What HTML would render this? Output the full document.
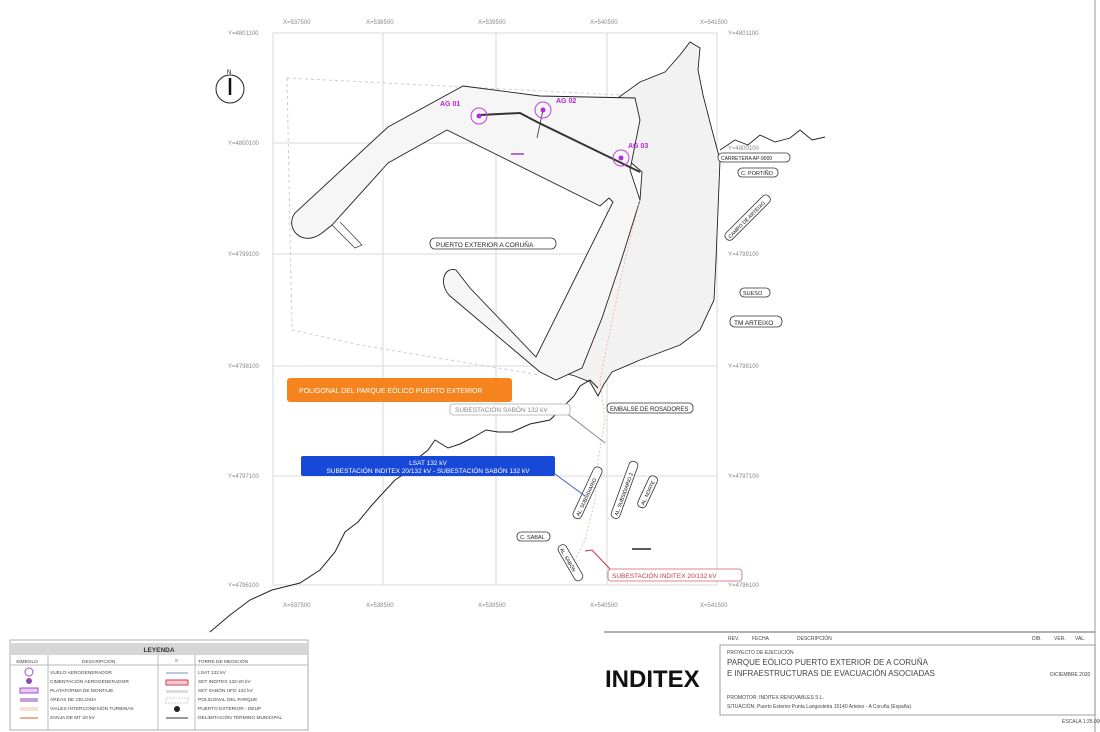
<!DOCTYPE html>
<html><head><meta charset="utf-8"><style>
html,body{margin:0;padding:0;background:#fff;width:1100px;height:732px;overflow:hidden}
svg{display:block}
text{font-family:"Liberation Sans",sans-serif}
</style></head><body>
<svg width="1100" height="732" viewBox="0 0 1100 732">
<rect width="1100" height="732" fill="#fff"/>
<!-- right frame line -->
<line x1="1095" y1="0" x2="1095" y2="732" stroke="#999" stroke-width="1"/>
<!-- grid -->
<g stroke="#d8d8d8" stroke-width="1" fill="none">
<rect x="273" y="33" width="444" height="552"/>
<line x1="383" y1="33" x2="383" y2="585"/><line x1="496" y1="33" x2="496" y2="585"/><line x1="607" y1="33" x2="607" y2="585"/>
<line x1="273" y1="143" x2="717" y2="143"/><line x1="273" y1="254" x2="717" y2="254"/><line x1="273" y1="366" x2="717" y2="366"/><line x1="273" y1="476" x2="717" y2="476"/>
</g>
<g font-size="6" fill="#888">
<text x="283" y="24">X=537500</text><text x="366" y="24">X=538500</text><text x="478" y="24">X=539500</text><text x="590" y="24">X=540500</text><text x="700" y="24">X=541500</text>
<text x="283" y="607">X=537500</text><text x="366" y="607">X=538500</text><text x="478" y="607">X=539500</text><text x="590" y="607">X=540500</text><text x="700" y="607">X=541500</text>
<text x="228" y="35">Y=4801100</text><text x="228" y="145">Y=4800100</text><text x="228" y="256">Y=4799100</text><text x="228" y="368">Y=4798100</text><text x="228" y="478">Y=4797100</text><text x="228" y="587">Y=4796100</text>
<text x="728" y="35">Y=4801100</text><text x="728" y="150">Y=4800100</text><text x="728" y="256">Y=4799100</text><text x="728" y="368">Y=4798100</text><text x="728" y="478">Y=4797100</text><text x="728" y="587">Y=4796100</text>
</g>
<!-- dashed poligonal -->
<path d="M287,78 L640,96 M287,78 L292,330 L360,345 L540,375" fill="none" stroke="#ccc" stroke-width="1" stroke-dasharray="3,3"/>
<!-- land -->
<path d="M615,100 L640,82 L665,72 L680,55 L690,42 L700,48 L698,70 L703,95 L712,130 L720,160 L718,210 L716,260 L714,300 L700,330 L680,345 L640,360 L612,372 L604,384 L598,396 L590,382 L575,376 L560,372 L566,352 L575,330 L590,300 L600,270 L608,240 L625,222 L640,200 L642,172 L628,160 L614,145 L622,122 Z" fill="#f2f2f2" stroke="#222" stroke-width="0.9"/>
<!-- breakwater -->
<path d="M463,86 L540,96 L635,98 L640,120 L630,170 L640,200 L622,258 L602,318 L582,368 L556,380 L540,372 L450,296 C438,284 444,266 456,270 L470,288 L536,357 L613,202 L609,198 L600,206 L447,130 L388,163 L332,225 L322,233 C302,248 284,228 295,213 L388,127 Z" fill="#f6f6f6" stroke="#222" stroke-width="0.9"/>
<path d="M332,225 L355,248 L362,245 L340,222" fill="none" stroke="#444" stroke-width="0.8"/>
<!-- coastlines -->
<path d="M210,632 L230,615 L250,600 L272,590 L300,583 L320,570 L335,552 L345,532 L358,522 L372,505 L382,494 L395,480 L410,470 L418,458 L428,450 L435,440 L448,448 L460,444 L472,438 L486,430 L498,432 L512,432 L530,424 L550,420 L562,408 L574,396 L580,386 L590,380 L598,388" fill="none" stroke="#222" stroke-width="1"/>
<path d="M720,150 L735,140 L748,145 L760,135 L775,142 L790,138 L800,130 L812,140 L825,137" fill="none" stroke="#222" stroke-width="0.9"/>
<!-- red/pink dashed track -->
<path d="M640,200 L625,260 L610,330 L600,380 L605,420 L598,460 L595,500 L585,540 L575,560" fill="none" stroke="#e8b0a0" stroke-width="0.8" stroke-dasharray="2,2"/>
<!-- cable -->
<path d="M480,115 L520,113 L537,122 L640,172" fill="none" stroke="#333" stroke-width="2"/>
<line x1="543" y1="110" x2="537" y2="138" stroke="#333" stroke-width="0.8"/>
<line x1="511" y1="154" x2="524" y2="154" stroke="#a040c0" stroke-width="1.5"/>
<g fill="none" stroke="#c040e0" stroke-width="1">
<circle cx="479" cy="116" r="8"/><circle cx="543" cy="110" r="8"/><circle cx="621" cy="158" r="8"/>
</g>
<g fill="#b030d0"><circle cx="479" cy="116" r="2.5"/><circle cx="543" cy="110" r="2.5"/><circle cx="621" cy="158" r="2.5"/></g>
<g font-size="7" font-weight="bold" fill="#c020e0"><text x="440" y="106">AG 01</text><text x="556" y="103">AG 02</text><text x="628" y="148">AG 03</text></g>
<!-- north -->
<circle cx="230" cy="89" r="14" fill="none" stroke="#222" stroke-width="1"/>
<line x1="230" y1="78" x2="230" y2="95" stroke="#111" stroke-width="2.5"/>
<text x="227" y="74" font-size="6">N</text>
<!-- labels boxed -->
<g font-size="7" fill="#222" stroke="#333" stroke-width="0.8">
<rect x="430" y="238" width="126" height="11" rx="5" fill="#fff"/>
<rect x="718" y="153" width="72" height="9" rx="4" fill="#fff"/>
<rect x="738" y="168" width="40" height="9" rx="4" fill="#fff"/>
<rect x="740" y="288" width="30" height="9" rx="4" fill="#fff"/>
<rect x="730" y="316" width="52" height="11" rx="5" fill="#fff"/>
<rect x="607" y="403" width="86" height="10" rx="4" fill="#fff"/>
<rect x="517" y="532" width="33" height="9" rx="4" fill="#fff"/>
</g>
<g font-size="6.5" fill="#222">
<text x="436" y="247">PUERTO EXTERIOR A CORUÑA</text>
<text x="721" y="160" font-size="5">CARRETERA AP-9000</text>
<text x="741" y="175" font-size="5.5">C. PORTIÑO</text>
<text x="743" y="295" font-size="5.5">SUESO</text>
<text x="734" y="325">TM ARTEIXO</text>
<text x="610" y="411" font-size="6">EMBALSE DE ROSADORES</text>
<text x="520" y="539" font-size="5.5">C. SABAL</text>
</g>
<g transform="translate(748,218) rotate(-45)"><rect x="-30" y="-5" width="60" height="9" rx="4" fill="#fff" stroke="#333" stroke-width="0.8"/><text x="-27" y="2" font-size="5">CAMPO DE ARTEIXO</text></g>
<g transform="translate(588,493) rotate(-65)"><rect x="-28" y="-5" width="56" height="9" rx="4" fill="#fff" stroke="#333" stroke-width="0.8"/><text x="-25" y="2" font-size="5">AL. SUBSIDIARIO</text></g>
<g transform="translate(625,490) rotate(-70)"><rect x="-30" y="-5" width="60" height="9" rx="4" fill="#fff" stroke="#333" stroke-width="0.8"/><text x="-27" y="2" font-size="5">AL. SUBSIDIARIO 2</text></g>
<g transform="translate(648,492) rotate(-65)"><rect x="-17" y="-5" width="34" height="9" rx="4" fill="#fff" stroke="#333" stroke-width="0.8"/><text x="-14" y="2" font-size="5">AL. NORTE</text></g>
<g transform="translate(570,563) rotate(60)"><rect x="-20" y="-5" width="40" height="9" rx="4" fill="#fff" stroke="#333" stroke-width="0.8"/><text x="-17" y="2" font-size="5">AL. SABÓN</text></g>
<line x1="632" y1="549" x2="651" y2="549" stroke="#222" stroke-width="1.5"/>
<!-- leader lines -->
<line x1="565" y1="412" x2="605" y2="443" stroke="#888" stroke-width="1"/>
<line x1="555" y1="474" x2="585" y2="496" stroke="#4060c0" stroke-width="1"/>
<path d="M610,569 L592,550 L585,551" fill="none" stroke="#d03040" stroke-width="1"/>
<!-- colored boxes -->
<rect x="287" y="378" width="225" height="24" rx="3" fill="#f5841f"/>
<text x="299" y="393" font-size="7" fill="#fff">POLIGONAL DEL PARQUE EÓLICO PUERTO EXTERIOR</text>
<rect x="450" y="404" width="120" height="11" rx="3" fill="#fff" stroke="#aaa" stroke-width="0.8"/>
<text x="455" y="412" font-size="6.5" fill="#888">SUBESTACIÓN SABÓN 132 kV</text>
<rect x="301" y="456" width="254" height="20" rx="2" fill="#1848d8"/>
<text x="428" y="465" font-size="6.5" fill="#fff" text-anchor="middle">LSAT 132 kV</text>
<text x="428" y="473" font-size="6.5" fill="#fff" text-anchor="middle">SUBESTACIÓN INDITEX 20/132 kV - SUBESTACIÓN SABÓN 132 kV</text>
<rect x="608" y="569" width="134" height="12" rx="3" fill="#fff" stroke="#d06070" stroke-width="0.8"/>
<text x="612" y="578" font-size="6.5" fill="#c04050">SUBESTACIÓN INDITEX 20/132 kV</text>
<!-- legend -->
<g font-size="4.8" fill="#444">
<rect x="10" y="640" width="298" height="90" fill="#fff" stroke="#999" stroke-width="0.8"/>
<rect x="11" y="643" width="296" height="12" fill="#d6d6d6"/>
<text x="159" y="652" font-size="6.5" font-weight="bold" text-anchor="middle" fill="#333">LEYENDA</text>
<line x1="48" y1="655" x2="48" y2="730" stroke="#bbb"/><line x1="158" y1="655" x2="158" y2="730" stroke="#bbb"/><line x1="195" y1="655" x2="195" y2="730" stroke="#bbb"/>
<line x1="10" y1="665" x2="308" y2="665" stroke="#bbb"/>
<text x="16" y="663">SÍMBOLO</text><text x="82" y="663">DESCRIPCIÓN</text>
<circle cx="29" cy="672" r="4" fill="none" stroke="#a050d0"/><circle cx="29" cy="681" r="3" fill="#9050a0"/>
<rect x="20" y="688" width="18" height="5" fill="#e8c8f0" stroke="#a050d0"/>
<rect x="20" y="698" width="18" height="4" fill="#c8a0d8"/>
<rect x="20" y="707" width="18" height="4" fill="#f8e0d0"/>
<line x1="20" y1="718" x2="38" y2="718" stroke="#d06030"/>
<text x="50" y="674">VUELO AEROGENERADOR</text><text x="50" y="683">CIMENTACIÓN AEROGENERADOR</text><text x="50" y="692">PLATAFORMA DE MONTAJE</text><text x="50" y="701">ÁREAS DE CELOSÍA</text><text x="50" y="710">VIALES INTERCONEXIÓN TURBINAS</text><text x="50" y="719">ZANJA DE MT 20 kV</text>
<text x="198" y="663">TORRE DE MEDICIÓN</text><text x="198" y="674">LSAT 132 kV</text><text x="198" y="683">SET INDITEX 132-20 kV</text><text x="198" y="692">SET SABÓN UFD 132 kV</text><text x="198" y="701">POLIGONAL DEL PARQUE</text><text x="198" y="710">PUERTO EXTERIOR - DEUP</text><text x="198" y="719">DELIMITACIÓN TÉRMINO MUNICIPAL</text>
<line x1="166" y1="673" x2="188" y2="673" stroke="#8090c0"/>
<rect x="166" y="680" width="22" height="5" fill="#f8c8d0" stroke="#d04050"/>
<rect x="166" y="690" width="22" height="3" fill="#ddd"/>
<rect x="166" y="698" width="22" height="5" fill="none" stroke="#ccc" stroke-dasharray="2,1"/>
<circle cx="177" cy="709" r="3" fill="#222"/>
<line x1="166" y1="718" x2="188" y2="718" stroke="#333"/>
<rect x="175" y="659" width="3" height="3" fill="#ccc"/>
</g>
<!-- title block -->
<line x1="604" y1="632" x2="1095" y2="632" stroke="#999" stroke-width="1.5"/>
<g font-size="5" fill="#444">
<text x="728" y="640">REV.</text><text x="752" y="640">FECHA</text><text x="797" y="640">DESCRIPCIÓN</text>
<text x="1032" y="640">DIB.</text><text x="1054" y="640">VER.</text><text x="1075" y="640">VAL.</text>
<rect x="720" y="645" width="375" height="70" fill="none" stroke="#888" stroke-width="0.8"/>
<text x="727" y="654">PROYECTO DE EJECUCIÓN</text>
<text x="727" y="665" font-size="8">PARQUE EÓLICO PUERTO EXTERIOR DE A CORUÑA</text>
<text x="727" y="676" font-size="8">E INFRAESTRUCTURAS DE EVACUACIÓN ASOCIADAS</text>
<text x="1050" y="676">DICIEMBRE 2020</text>
<text x="727" y="699">PROMOTOR:   INDITEX RENOVABLES S.L.</text>
<text x="727" y="708">SITUACIÓN:   Puerto Exterior Punta Langosteira 15140 Arteixo - A Coruña (España)</text>
<text x="1062" y="723">ESCALA 1:25.000</text>
</g>
<text x="605" y="687" font-size="24" font-weight="bold" fill="#111">INDITEX</text>
</svg>
</body></html>
